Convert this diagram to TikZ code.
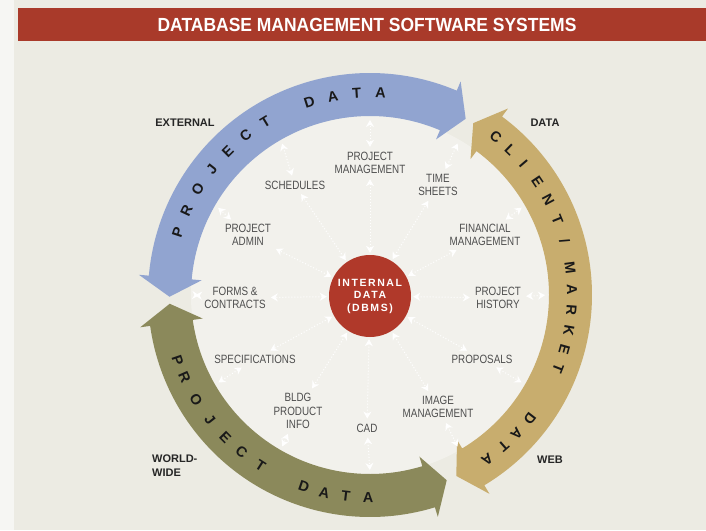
\documentclass[tikz,border=0pt]{standalone}
\usepackage{fontspec}
\setmainfont{Liberation Sans}
\newfontfamily\condfont[FakeStretch=0.82]{Liberation Sans}
\newfontfamily\titlefont[FakeStretch=0.92]{Liberation Sans}
\newfontfamily\spacedfont[LetterSpace=15]{Liberation Sans}
\usetikzlibrary{arrows.meta, calc}

\definecolor{bgcream}{HTML}{ECEBE3}
\definecolor{bandblue}{HTML}{91A4D0}
\definecolor{bandtan}{HTML}{C8AD6E}
\definecolor{bandolive}{HTML}{8B895B}
\definecolor{brick}{HTML}{A93A2A}
\definecolor{dbred}{HTML}{B0392A}
\definecolor{lblgray}{HTML}{4E4E4E}

\tikzset{
  lbl/.style={font=\condfont\fontsize{12}{13.5}\selectfont, text=lblgray, align=center, inner sep=3pt},
  side/.style={font=\bfseries\fontsize{11}{14}\selectfont, text=black!85, align=left, inner sep=0pt},
  band letter/.style={font=\bfseries\fontsize{14.5}{14.5}\selectfont, text=black!90, inner sep=0pt},
  radial/.style={white, line width=1pt, dash pattern=on 1pt off 2pt,
    {Stealth[width=8pt,length=7pt]}-{Stealth[width=8pt,length=7pt]}, shorten <=2pt, shorten >=2pt},
}

% curved band with a head at each end: tip angle, tip angle, colour
\newcommand\bandarrow[3]{%
  \pgfmathsetmacro\bandS{sign(#2-#1)}
  \pgfmathsetmacro\bandA{#1+\bandS*5.5}
  \pgfmathsetmacro\bandB{#2-\bandS*5.5}
  \fill[#3] (#1:200.5) -- (\bandA:232) -- (\bandA:222)
    arc[start angle=\bandA, end angle=\bandB, radius=222] -- (\bandB:232) -- (#2:200.5)
    -- (\bandB:169) -- (\bandB:179)
    arc[start angle=\bandB, end angle=\bandA, radius=179] -- (\bandA:169) -- cycle;
}

\begin{document}
\begin{tikzpicture}[x=1pt, y=1pt]
  \useasboundingbox (-370,-235) rectangle (336,295);
  \fill[bgcream] (-370,-235) rectangle (336,295);
  \fill[white!55!bgcream] (-370,-235) rectangle (-356,295);
  \fill[white, opacity=0.35] (0,0) circle (179);

  % title bar
  \fill[brick] (-352,254) rectangle (336,287);
  \node[font=\titlefont\bfseries\fontsize{19}{19}\selectfont, text=white] (title) at (-3,270.5)
    {DATABASE MANAGEMENT SOFTWARE SYSTEMS};

  % ring
  \foreach \s/\e/\c in {180.5/61.5/bandblue, 59/-64.5/bandtan, 182.5/292.5/bandolive}{
    \bandarrow{\s}{\e}{\c}
  }
  \foreach \a/\ch in {162/P, 155.3/R, 148.5/O, 141.6/J, 134.8/E, 128/C, 121.2/T,
                      107.5/D, 100.6/A, 93.8/T, 87/A}{
    \node[band letter, rotate=\a-90] at (\a:202) {\ch};
  }
  \foreach \a/\ch in {51.5/C, 46/L, 40.5/I, 34/E, 28/N, 22/T, 15.5/{/}, 7.7/M, 1.6/A,
                      -4.3/R, -10/K, -15.8/E, -21.3/T, -37.7/D, -43.4/A, -48.6/T, -54.5/A}{
    \node[band letter, rotate=\a-90] at (\a:202) {\ch};
  }
  \foreach \a/\ch in {198.7/P, 204/R, 211/O, 218/J, 224.5/E, 230.8/C, 237.4/T,
                      251/D, 257/A, 263.2/T, 269.5/A}{
    \node[band letter, rotate=\a+90] at (\a:203) {\ch};
  }

  % hub and spokes
  \node[circle, fill=dbred, minimum size=82pt, inner sep=0pt, text=white, align=center,
    font=\spacedfont\bfseries\fontsize{10.5}{12.5}\selectfont] (dbms) at (0,-1)
    {INTERNAL\\DATA\\(DBMS)};

  \node[lbl] (pm) at (0,132) {PROJECT\\MANAGEMENT};
  \node[lbl] (sched) at (-75,110) {SCHEDULES};
  \node[lbl] (times) at (68,110) {TIME\\SHEETS};
  \node[lbl] (admin) at (-122,60) {PROJECT\\ADMIN};
  \node[lbl] (fin) at (115,60) {FINANCIAL\\MANAGEMENT};
  \node[lbl] (forms) at (-135,-3) {FORMS \&\\CONTRACTS};
  \node[lbl] (hist) at (128,-3) {PROJECT\\HISTORY};
  \node[lbl] (spec) at (-115,-64) {SPECIFICATIONS};
  \node[lbl] (prop) at (112,-64) {PROPOSALS};
  \node[lbl] (bldg) at (-72,-116) {BLDG\\PRODUCT\\INFO};
  \node[lbl] (cad) at (-3,-133) {CAD};
  \node[lbl] (imgm) at (68,-112) {IMAGE\\MANAGEMENT};

  \foreach \n/\a in {pm/90, sched/120, times/60, admin/150, fin/30, forms/180, hist/0,
                     spec/210, prop/330, bldg/240, cad/270, imgm/300}{
    \coordinate (r\n) at (\a:177);
    \draw[radial] (dbms) -- (\n);
    \draw[radial] (\n) -- (r\n);
  }

  % outside labels
  \node[side] (ext) at (-185,172) {EXTERNAL};
  \node[side] (dat) at (175,172) {DATA};
  \node[side, anchor=west] (ww) at (-218,-171) {WORLD-\\WIDE};
  \node[side] (web) at (180,-165) {WEB};
\end{tikzpicture}
\end{document}
